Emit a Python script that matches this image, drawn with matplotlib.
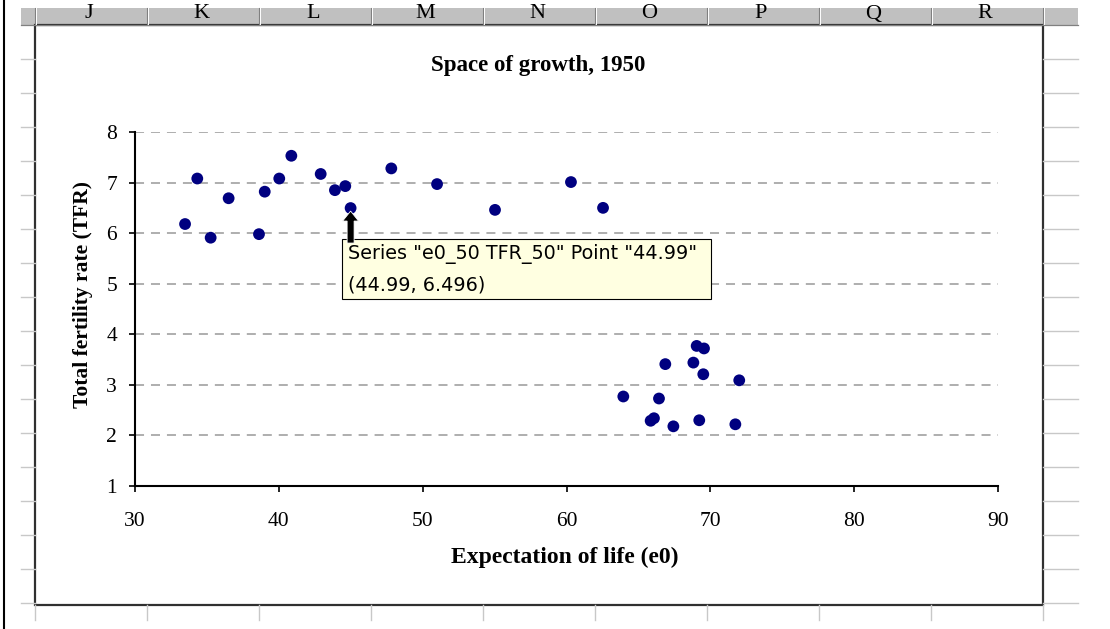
import matplotlib
matplotlib.use('Agg')
import matplotlib.pyplot as plt
from matplotlib.patches import Rectangle, Polygon

plt.rcParams.update({
    'font.family': ['Liberation Serif', 'DejaVu Serif'],
    'lines.scale_dashes': False,
})

# Life expectancy (e0) and total fertility rate, 1950
e0_50 = [33.48, 34.33, 35.26, 36.51, 38.62, 39.02, 40.03, 40.87, 42.91, 43.90,
         44.62, 44.99, 47.82, 51.00, 55.03, 60.31, 62.54,
         63.95, 65.85, 66.08, 66.43, 66.87, 67.43, 68.82, 69.05, 69.23,
         69.51, 69.56, 71.74, 72.01]
tfr_50 = [6.18, 7.08, 5.91, 6.69, 5.98, 6.82, 7.08, 7.53, 7.17, 6.85,
          6.93, 6.496, 7.28, 6.97, 6.46, 7.01, 6.50,
          2.77, 2.29, 2.34, 2.73, 3.41, 2.18, 3.44, 3.77, 2.30,
          3.21, 3.72, 2.22, 3.09]
hover_point = (44.99, 6.496)

x_ticks = [30, 40, 50, 60, 70, 80, 90]
y_ticks = [1, 2, 3, 4, 5, 6, 7, 8]
col_letters = ['J', 'K', 'L', 'M', 'N', 'O', 'P', 'Q', 'R']

W, H = 1110, 629
fig = plt.figure(figsize=(W / 100, H / 100), dpi=100)

# --- spreadsheet backdrop, in pixel coordinates ---
bg = fig.add_axes([0, 0, 1, 1], zorder=0)
bg.set_xlim(0, W)
bg.set_ylim(H, 0)
bg.axis('off')

bg.plot([4, 4], [0, H], color='black', lw=1.5)
header = Rectangle((21, 8), 1057, 17, fc='#c0c0c0', ec='none')
bg.add_patch(header)
bg.plot([21, 1078], [24.5, 24.5], color='#808080', lw=0.9)

col_edges = [35 + 112 * k for k in range(10)]
for xe in col_edges:
    bg.plot([xe, xe], [8, 24], color='#808080', lw=0.8)
    bg.plot([xe + 1.3, xe + 1.3], [8, 24], color='white', lw=0.7)
    bg.plot([xe, xe], [605, 620], color='#c8c8c8', lw=1.0)
for k, letter in enumerate(col_letters):
    t = bg.text(col_edges[k] + 54, 18.5, letter, ha='center', va='baseline',
                fontsize=16, color='black')
    t.set_clip_path(header)

for yr in range(59, 604, 34):
    bg.plot([21, 35], [yr, yr], color='#c8c8c8', lw=1.0)
    bg.plot([1043, 1078], [yr, yr], color='#c8c8c8', lw=1.0)

bg.add_patch(Rectangle((35, 25), 1008, 580, fc='white', ec='#303030', lw=1.6))

# --- chart ---
ax = fig.add_axes([135 / W, 1 - 486 / H, 863 / W, 354 / H], zorder=2)
ax.patch.set_alpha(0)
ax.scatter(e0_50, tfr_50, s=72, c='#000080', edgecolors='none', zorder=3)
ax.set_xlim(30, 90)
ax.set_ylim(1, 8)
ax.set_xticks(x_ticks)
ax.set_yticks(y_ticks)
for side in ['top', 'right']:
    ax.spines[side].set_visible(False)
for side in ['left', 'bottom']:
    ax.spines[side].set_linewidth(1.5)
    ax.spines[side].set_color('black')
ax.tick_params(direction='out', length=4, width=1.2, labelsize=15.5)
ax.tick_params(axis='y', pad=9)
ax.tick_params(axis='x', pad=15)
ax.yaxis.grid(True, color='#999999', lw=1.1, ls=(0, (6.5, 5)))
ax.set_axisbelow(True)

ax.text(0.467, 1.189, 'Space of growth, 1950', transform=ax.transAxes,
        ha='center', va='center', fontsize=16.5, fontweight='bold')
ax.set_ylabel('Total fertility rate (TFR)', fontsize=15.5, fontweight='bold', va='center')
ax.yaxis.set_label_coords(-0.0603, 0.542)
ax.set_xlabel('Expectation of life (e0)', fontsize=17, fontweight='bold', va='center')
ax.xaxis.set_label_coords(0.498, -0.203)

# --- hover tooltip and cursor ---
ov = fig.add_axes([0, 0, 1, 1], zorder=5)
ov.set_xlim(0, W)
ov.set_ylim(H, 0)
ov.axis('off')
ov.patch.set_alpha(0)

px, py = ax.transData.transform(hover_point)
bx, by = px, H - py
ov.add_patch(Rectangle((bx - 9, by + 31), 369, 60, fc='#ffffe1', ec='black', lw=0.8))
ov.text(bx - 3, by + 46, 'Series "e0_50 TFR_50" Point "44.99"', ha='left', va='center',
        fontsize=13.8, family='DejaVu Sans')
ov.text(bx - 3, by + 77, '(44.99, 6.496)', ha='left', va='center',
        fontsize=13.8, family='DejaVu Sans')
cursor = [(bx, by + 3), (bx + 8, by + 13), (bx + 3.5, by + 13), (bx + 3.5, by + 35),
          (bx - 3.5, by + 35), (bx - 3.5, by + 13), (bx - 8, by + 13)]
ov.add_patch(Polygon(cursor, closed=True, fc='black', ec='white', lw=0.6))

fig.savefig('out.png', dpi=100)
